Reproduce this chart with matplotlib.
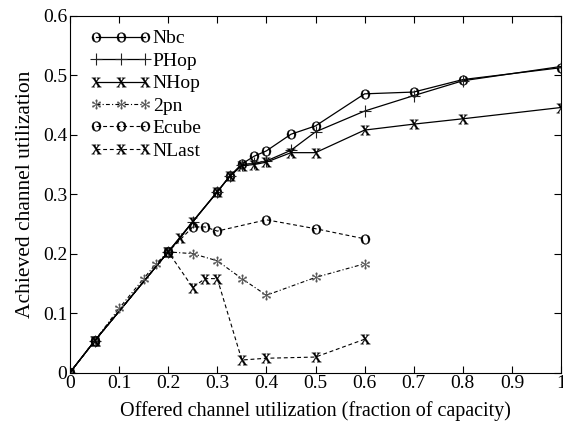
import matplotlib
matplotlib.use('Agg')
import matplotlib.pyplot as plt
from matplotlib.ticker import FormatStrFormatter

plt.rcParams['font.family'] = ['Liberation Serif', 'DejaVu Serif']
plt.rcParams['mathtext.fontset'] = 'stix'

# data
nbc_x = [0, 0.05, 0.2, 0.3, 0.325, 0.35, 0.375, 0.4, 0.45, 0.5, 0.6, 0.7, 0.8, 1.0]
nbc_y = [0, 0.053, 0.203, 0.304, 0.330, 0.351, 0.364, 0.373, 0.401, 0.415, 0.469, 0.472, 0.493, 0.513]

phop_x = [0, 0.05, 0.2, 0.25, 0.3, 0.325, 0.35, 0.375, 0.4, 0.45, 0.5, 0.6, 0.7, 0.8, 1.0]
phop_y = [0, 0.053, 0.203, 0.254, 0.304, 0.330, 0.350, 0.352, 0.356, 0.374, 0.405, 0.440, 0.466, 0.491, 0.515]

nhop_x = [0, 0.05, 0.2, 0.225, 0.25, 0.3, 0.325, 0.35, 0.375, 0.4, 0.45, 0.5, 0.6, 0.7, 0.8, 1.0]
nhop_y = [0, 0.053, 0.203, 0.227, 0.254, 0.304, 0.330, 0.348, 0.350, 0.354, 0.370, 0.370, 0.408, 0.418, 0.427, 0.446]

pn2_x = [0, 0.05, 0.1, 0.15, 0.175, 0.2, 0.25, 0.3, 0.35, 0.4, 0.5, 0.6]
pn2_y = [0, 0.053, 0.108, 0.158, 0.183, 0.203, 0.200, 0.188, 0.158, 0.130, 0.160, 0.183]

ecube_x = [0, 0.05, 0.2, 0.25, 0.275, 0.3, 0.4, 0.5, 0.6]
ecube_y = [0, 0.053, 0.203, 0.245, 0.245, 0.238, 0.257, 0.242, 0.225]

nlast_x = [0, 0.05, 0.2, 0.25, 0.275, 0.3, 0.35, 0.4, 0.5, 0.6]
nlast_y = [0, 0.053, 0.203, 0.143, 0.158, 0.158, 0.021, 0.024, 0.026, 0.056]

x_ticks = [0, 0.1, 0.2, 0.3, 0.4, 0.5, 0.6, 0.7, 0.8, 0.9, 1]
y_ticks = [0, 0.1, 0.2, 0.3, 0.4, 0.5, 0.6]

fig = plt.figure(figsize=(5.63, 4.28), dpi=100)
ax = fig.add_axes([70/563, 1-372.5/428, 491/563, 356.5/428])

m_o = r'$\mathrm{o}$'
m_x = r'$\mathrm{x}$'
m_s = r'$\ast$'
dash = (0, (3.5, 2.5))
dashdot = (0, (3.5, 2, 1, 2))
mk = dict(mew=0.2, mec='k', mfc='k')

ax.plot(nbc_x, nbc_y, color='k', lw=0.9, ls='-', marker=m_o, ms=7, label='Nbc', **mk)
ax.plot(phop_x, phop_y, color='k', lw=0.9, ls='-', marker='+', ms=8, mew=0.8, mec='#222222', label='PHop')
ax.plot(nhop_x, nhop_y, color='k', lw=0.9, ls='-', marker=m_x, ms=7, label='NHop', **mk)
ax.plot(pn2_x, pn2_y, color='k', lw=0.8, ls=dashdot, marker=m_s, ms=7, label='2pn',
        mew=0.2, mec='#555555', mfc='#555555')
ax.plot(ecube_x, ecube_y, color='k', lw=0.8, ls=dash, marker=m_o, ms=7, label='Ecube', **mk)
ax.plot(nlast_x, nlast_y, color='k', lw=0.8, ls=dash, marker=m_x, ms=7, label='NLast', **mk)

ax.set_xlim(0, 1)
ax.set_ylim(0, 0.6)
ax.set_xticks(x_ticks)
ax.set_yticks(y_ticks)
ax.xaxis.set_major_formatter(FormatStrFormatter('%g'))
ax.yaxis.set_major_formatter(FormatStrFormatter('%g'))
ax.tick_params(direction='in', top=True, right=True, length=5, width=0.8, labelsize=14, pad=2)
for s in ax.spines.values():
    s.set_linewidth(0.8)

ax.set_xlabel('Offered channel utilization (fraction of capacity)', fontsize=14.5, labelpad=6)
ax.set_ylabel('Achieved channel utilization', fontsize=15.5, labelpad=6)

ax.legend(loc='upper left', frameon=False, numpoints=3, handlelength=3.1, handletextpad=0.1,
          labelspacing=0.25, fontsize=14, borderaxespad=0.4, bbox_to_anchor=(0.01, 1.005))

fig.savefig('out.png', dpi=100)
